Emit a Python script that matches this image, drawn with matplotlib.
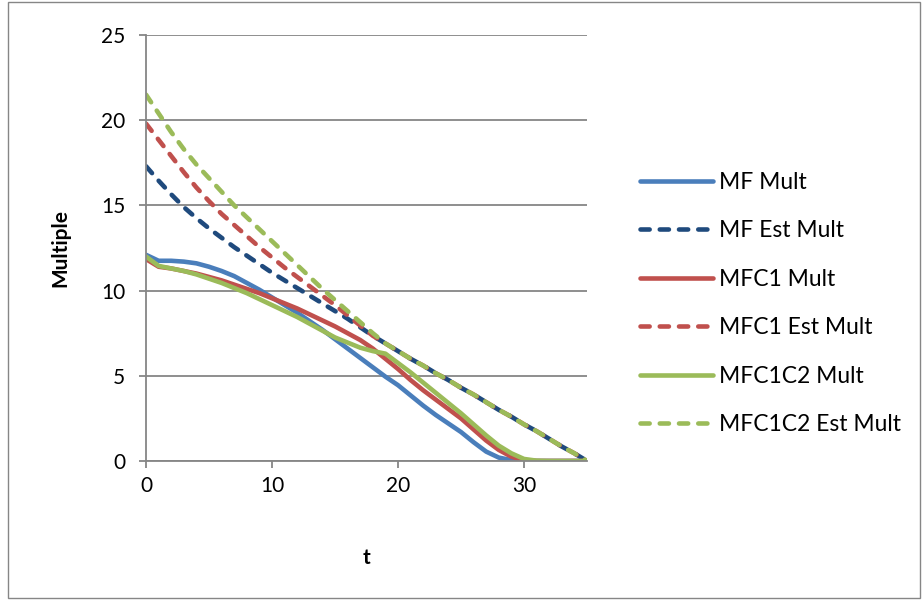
import matplotlib
matplotlib.use("Agg")
import matplotlib.pyplot as plt
from matplotlib.patches import Rectangle

plt.rcParams['font.family'] = ['Lato', 'DejaVu Sans']

t = list(range(0, 36))

mf_mult = [12.1, 11.75, 11.75, 11.7, 11.6, 11.4, 11.15, 10.85, 10.45, 10.05,
           9.6, 9.15, 8.7, 8.2, 7.7, 7.15, 6.6, 6.05, 5.5, 4.95,
           4.45, 3.85, 3.25, 2.7, 2.2, 1.7, 1.1, 0.55, 0.2, 0.05,
           0, 0, 0, 0, 0, 0]
mfc1_mult = [11.85, 11.4, 11.3, 11.15, 11.0, 10.8, 10.6, 10.35, 10.1, 9.85,
             9.55, 9.25, 8.95, 8.6, 8.25, 7.9, 7.5, 7.1, 6.6, 6.0,
             5.4, 4.75, 4.15, 3.6, 3.05, 2.5, 1.85, 1.2, 0.65, 0.25,
             0.05, 0, 0, 0, 0, 0]
mfc1c2_mult = [12.0, 11.45, 11.3, 11.15, 10.95, 10.7, 10.45, 10.15, 9.85, 9.5,
               9.15, 8.8, 8.45, 8.05, 7.65, 7.25, 6.95, 6.65, 6.45, 6.3,
               5.75, 5.2, 4.6, 4.0, 3.4, 2.8, 2.15, 1.5, 0.9, 0.45,
               0.12, 0.02, 0, 0, 0, 0]
tail_est = [6.45, 6.0, 5.6, 5.15, 4.75, 4.3, 3.9, 3.45, 3.0, 2.6,
            2.15, 1.75, 1.3, 0.85, 0.45, 0]
mf_est = [17.3, 16.45, 15.65, 14.9, 14.25, 13.65, 13.1, 12.55, 12.05, 11.55,
          11.05, 10.6, 10.15, 9.7, 9.25, 8.8, 8.35, 7.85, 7.35, 6.9] + tail_est
mfc1_est = [19.8, 18.85, 17.9, 16.95, 16.05, 15.25, 14.5, 13.85, 13.2, 12.55,
            11.95, 11.35, 10.8, 10.25, 9.7, 9.15, 8.55, 7.95, 7.35, 6.9] + tail_est
mfc1c2_est = [21.5, 20.4, 19.3, 18.3, 17.4, 16.6, 15.8, 15.0, 14.3, 13.6,
              12.9, 12.2, 11.5, 10.8, 10.1, 9.45, 8.8, 8.15, 7.5, 6.9] + tail_est

labels = ["MF Mult", "MF Est Mult", "MFC1 Mult", "MFC1 Est Mult",
          "MFC1C2 Mult", "MFC1C2 Est Mult"]
series = [mf_mult, mf_est, mfc1_mult, mfc1_est, mfc1c2_mult, mfc1c2_est]
colors = ["#4A7EBB", "#1F4A7D", "#C0504D", "#C0504D", "#9BBB59", "#9BBB59"]
dash = (0, (2.0, 2.2))
styles = ["-", dash, "-", dash, "-", dash]

xticks = [0, 10, 20, 30]
yticks = [0, 5, 10, 15, 20, 25]

fig = plt.figure(figsize=(9.22, 6.0), dpi=100)
ax = fig.add_axes([146/922, 1-461/600, 441/922, 426/600])

for y, lab, c, ls in zip(series, labels, colors, styles):
    ax.plot(t, y, color=c, linestyle=ls, lw=3.3, label=lab,
            solid_capstyle='round', dash_capstyle='round', solid_joinstyle='round')

ax.set_xlim(0, 35)
ax.set_ylim(0, 25)
ax.set_xticks(xticks)
ax.set_yticks(yticks)
ax.yaxis.grid(True, color="#868686", lw=1.3)
ax.set_axisbelow(True)
for s in ["top", "right"]:
    ax.spines[s].set_visible(False)
for s in ["left", "bottom"]:
    ax.spines[s].set_color("#868686")
    ax.spines[s].set_linewidth(1.3)
ax.tick_params(axis='both', colors="#868686", labelcolor="black", labelsize=15,
               length=5, width=1.3, direction='out')
ax.tick_params(axis='y', pad=10)
ax.tick_params(axis='x', pad=6)

ax.set_xlabel("t", fontsize=15, fontweight='bold', labelpad=37)
ax.set_ylabel("Multiple", fontsize=15, fontweight='bold', labelpad=22)

leg = fig.legend(loc='center left', bbox_to_anchor=(640/922, 1-303.5/600),
                 frameon=False, fontsize=16.5, handlelength=3.2, handletextpad=0.25,
                 labelspacing=1.2, borderpad=0, borderaxespad=0)

fig.patches.append(Rectangle((8/922, 2/600), 912/922, 596/600, transform=fig.transFigure,
                             fill=False, edgecolor="#868686", lw=1.0))

fig.savefig("out.png", dpi=100)
